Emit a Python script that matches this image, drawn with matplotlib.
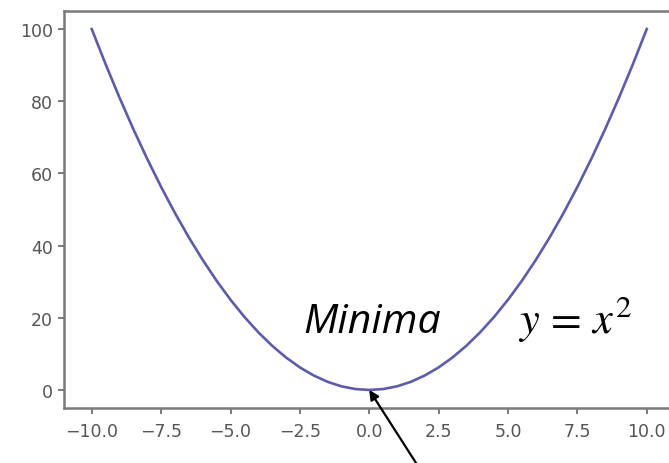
import matplotlib
matplotlib.use("Agg")
import matplotlib.pyplot as plt

# points on the parabola y = x^2
x_vals = [-10.0, -9.5, -9.0, -8.5, -8.0, -7.5, -7.0, -6.5, -6.0, -5.5, -5.0,
          -4.5, -4.0, -3.5, -3.0, -2.5, -2.0, -1.5, -1.0, -0.5, 0.0,
          0.5, 1.0, 1.5, 2.0, 2.5, 3.0, 3.5, 4.0, 4.5, 5.0,
          5.5, 6.0, 6.5, 7.0, 7.5, 8.0, 8.5, 9.0, 9.5, 10.0]
y_vals = [100.0, 90.25, 81.0, 72.25, 64.0, 56.25, 49.0, 42.25, 36.0, 30.25, 25.0,
          20.25, 16.0, 12.25, 9.0, 6.25, 4.0, 2.25, 1.0, 0.25, 0.0,
          0.25, 1.0, 2.25, 4.0, 6.25, 9.0, 12.25, 16.0, 20.25, 25.0,
          30.25, 36.0, 42.25, 49.0, 56.25, 64.0, 72.25, 81.0, 90.25, 100.0]
x_ticks = [-10.0, -7.5, -5.0, -2.5, 0.0, 2.5, 5.0, 7.5, 10.0]
y_ticks = [0, 20, 40, 60, 80, 100]
min_point = (0.0, 0.0)

W, H = 669, 464
plt.rcParams["mathtext.fontset"] = "stix"
fig = plt.figure(figsize=(W / 100, H / 100), dpi=100)
fig.patch.set_facecolor("white")

# axes run a little past the right edge
ax = fig.add_axes([64 / W, 55 / H, (674.5 - 64) / W, (409 - 12) / H])
ax.plot(x_vals, y_vals, color="#5c5ca8", lw=1.9)
ax.set_xlim(-11, 11)
ax.set_ylim(-5, 105)
ax.set_xticks(x_ticks)
ax.set_xticklabels([f"{t:.1f}".replace("-", "\u2212") for t in x_ticks])
ax.set_yticks(y_ticks)

for s in ax.spines.values():
    s.set_color("#7a7a7a")
    s.set_linewidth(1.8)
ax.tick_params(axis="both", direction="out", length=4, width=1.4,
               color="#7a7a7a", labelcolor="#555555", labelsize=12.5)
ax.tick_params(axis="x", pad=6)
ax.tick_params(axis="y", pad=4)

fig.text(303 / W, 1 - 333 / H, "Minima", fontsize=29.5, style="italic",
         family="Open Sans", color="black", va="baseline", ha="left")
fig.text(518 / W, 1 - 333 / H, r"$y\,=\,x^2$", fontsize=32,
         color="black", va="baseline", ha="left")

ax.annotate("", xy=min_point, xycoords="data",
            xytext=(419 / W, -0.01), textcoords="figure fraction",
            arrowprops=dict(arrowstyle="-|>", color="black", lw=1.6,
                            mutation_scale=14, shrinkA=0, shrinkB=0),
            annotation_clip=False)

fig.savefig("out.png", dpi=100)
